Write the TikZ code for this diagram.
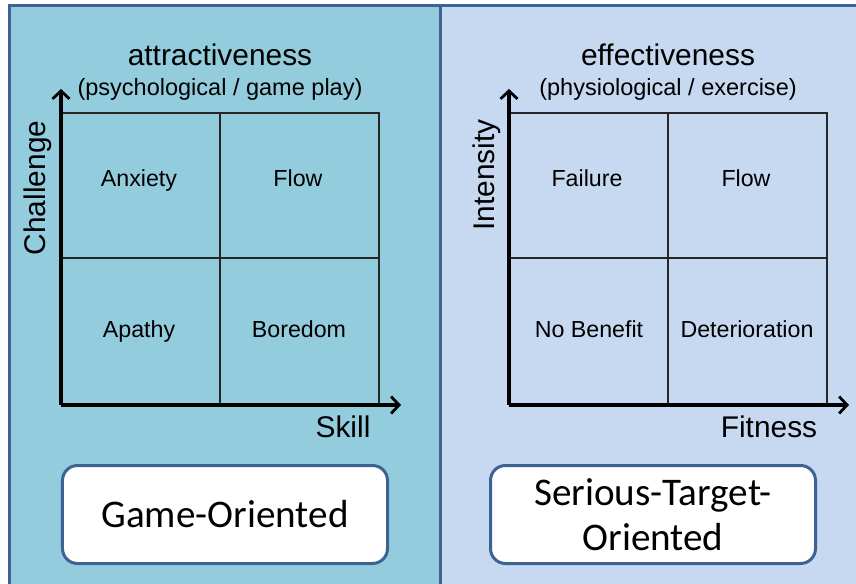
\documentclass[tikz,border=0pt]{standalone}
\usepackage{fontspec}
\setmainfont{Liberation Sans}
\newfontfamily\calfont{Carlito}
\usetikzlibrary{arrows.meta}
\definecolor{leftfill}{HTML}{93CDDD}
\definecolor{rightfill}{HTML}{C6D9F0}
\definecolor{panelborder}{HTML}{3E6294}
\begin{document}
\begin{tikzpicture}[x=1bp,y=-1bp,
  panel/.style={draw=panelborder,line width=3bp},
  axis/.style={line width=3.2bp,-{Straight Barb[length=8bp,width=17bp,line width=2.8bp]}},
  gridline/.style={line width=2bp,draw=black!85},
  title/.style={font=\fontsize{30}{34}\selectfont,anchor=base},
  subtitle/.style={font=\fontsize{23.6}{27}\selectfont,anchor=base},
  cell/.style={font=\fontsize{23.3}{27}\selectfont,anchor=base},
  axlabel/.style={font=\fontsize{30}{34}\selectfont},
  resultbox/.style={draw=panelborder,line width=3bp,fill=white,rounded corners=15bp,
    minimum width=325bp,minimum height=98bp,font=\calfont\fontsize{39.3}{45}\selectfont,align=center,inner sep=0pt}
]
\useasboundingbox (0,0) rectangle (856,584);
% panels
\fill[leftfill] (9,6) rectangle (440,600);
\fill[rightfill] (440,6) rectangle (870,600);
\draw[panel] (9,600) -- (9,6) -- (870,6);
\draw[panel] (440,6) -- (440,600);

% ---------- left quadrant ----------
\coordinate (LO) at (61,405);
\coordinate (LYtip) at (61,89);
\coordinate (LXtip) at (401,405);
\draw[gridline] (61,113) -- (379,113) -- (379,405);
\draw[gridline] (61,258) -- (379,258);
\draw[gridline] (220,113) -- (220,405);
\draw[axis] (LO) -- (LYtip);
\draw[axis] (LO) -- (LXtip);
\node[title] (attr) at (220,66) {attractiveness};
\node[subtitle] (attrsub) at (220,96) {(psychological / game play)};
\node[cell] (anx) at (139,187) {Anxiety};
\node[cell] (flowL) at (298,187) {Flow};
\node[cell] (apa) at (139,337) {Apathy};
\node[cell] (bor) at (299,337) {Boredom};
\node[axlabel,rotate=90] (chal) at (38,188) {Challenge};
\node[axlabel,anchor=base] (skill) at (343,437) {Skill};
\node[resultbox] (game) at (225,514.5) {Game-Oriented};

% ---------- right quadrant ----------
\coordinate (RO) at (509,405);
\coordinate (RYtip) at (509,89);
\coordinate (RXtip) at (849,405);
\draw[gridline] (509,113) -- (827,113) -- (827,405);
\draw[gridline] (509,258) -- (827,258);
\draw[gridline] (668,113) -- (668,405);
\draw[axis] (RO) -- (RYtip);
\draw[axis] (RO) -- (RXtip);
\node[title] (eff) at (668,66) {effectiveness};
\node[subtitle] (effsub) at (668,96) {(physiological / exercise)};
\node[cell] (fail) at (587,187) {Failure};
\node[cell] (flowR) at (746,187) {Flow};
\node[cell] (nob) at (589,337) {No Benefit};
\node[cell] (det) at (747,337) {Deterioration};
\node[axlabel,rotate=90] (inten) at (487,175) {Intensity};
\node[axlabel,anchor=base] (fit) at (769,437) {Fitness};
\node[resultbox] (serious) at (653,514.5) {Serious-Target-\\Oriented};
\end{tikzpicture}
\end{document}
